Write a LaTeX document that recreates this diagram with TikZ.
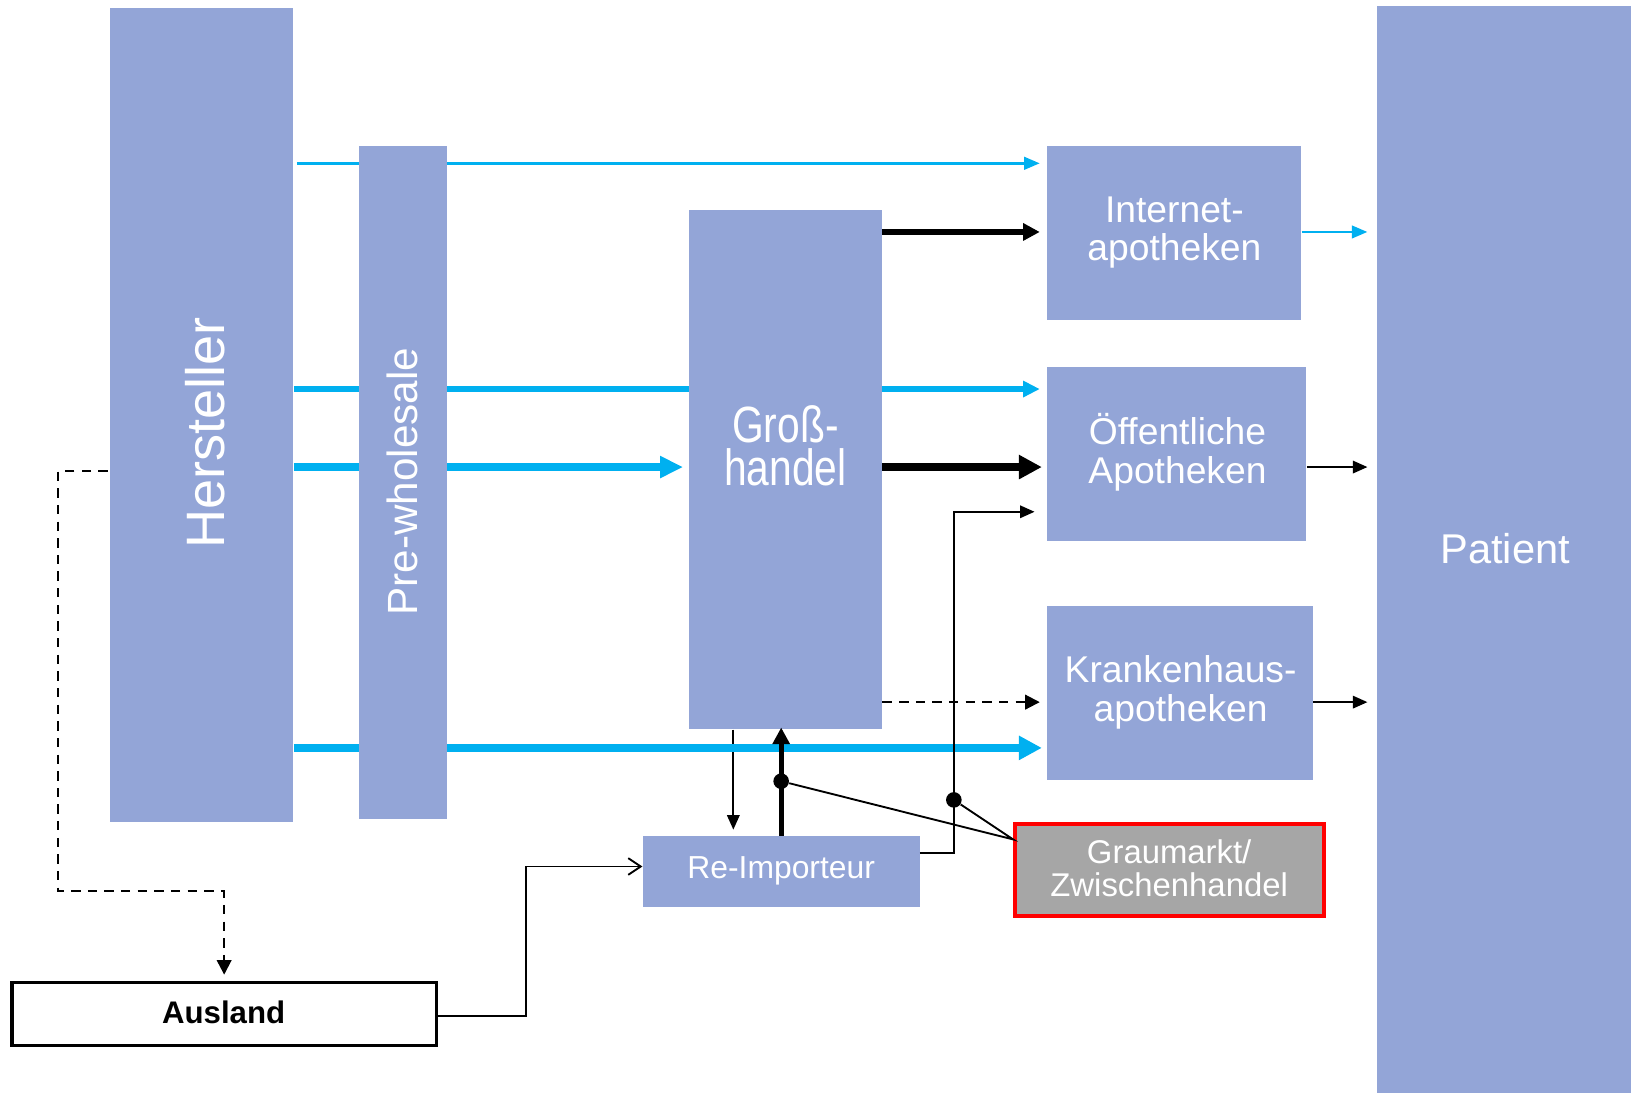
\documentclass[tikz,border=0pt]{standalone}
\usepackage{fontspec}
\setmainfont{Liberation Sans}
\usetikzlibrary{arrows.meta,fit,backgrounds}
\definecolor{boxblue}{RGB}{147,165,215}
\definecolor{flowcyan}{RGB}{0,176,240}
\definecolor{graybox}{RGB}{166,166,166}
\newcommand\apofont{\fontsize{17.9}{18.5}\selectfont}
\newcommand\ghfont{\fontsize{24.5}{22}\selectfont}

\begin{document}
\begin{tikzpicture}[x=0.5pt,y=-0.5pt,
  blk/.style={fill=boxblue, draw=none, inner sep=0pt},
  lbl/.style={text=white, inner sep=0pt, align=center},
  thinarr/.style={draw=black, line width=0.9pt, -{Triangle[length=7pt,width=6pt]}},
  openarr/.style={draw=black, line width=0.9pt, -{Straight Barb[length=6pt,width=8pt]}},
  cyanA/.style={draw=flowcyan, line width=1.3pt, -{Triangle[length=7.5pt,width=6pt]}},
  cyanB/.style={draw=flowcyan, line width=2.5pt, -{Triangle[length=8pt,width=7.5pt]}},
  cyanC/.style={draw=flowcyan, line width=3.5pt, -{Triangle[length=11pt,width=10pt]}},
  cyanD/.style={draw=flowcyan, line width=4pt, -{Triangle[length=11pt,width=11pt]}},
  blkB/.style={draw=black, line width=2.5pt, -{Triangle[length=8pt,width=8pt]}},
  blkC/.style={draw=black, line width=3.5pt, -{Triangle[length=11pt,width=11pt]}},
  dashline/.style={draw=black, line width=1pt, dash pattern=on 4.5pt off 3.5pt, -{Triangle[length=7pt,width=7pt]}},
  junction/.style={circle, fill=black, inner sep=0pt, minimum size=7.5pt}
]
\useasboundingbox (0,0) rectangle (1568,1051);

% supply chain boxes
\node[blk, fit={(106,8)(282,790)}] (hst) {};
\node[blk, fit={(345,140)(430,787)}] (pws) {};
\node[blk, fit={(662,202)(848,701)}] (gh) {};
\node[blk, fit={(1007,140)(1251,308)}] (inet) {};
\node[blk, fit={(1007,353)(1256,520)}] (oef) {};
\node[blk, fit={(1007,583)(1262,750)}] (kh) {};
\node[blk, fit={(1324,6)(1568,1051)}] (pat) {};
\node[blk, fit={(618,804)(884,872)}] (ri) {};
\node[fill=graybox, draw=red, line width=2pt, inner sep=0pt, fit={(976,792)(1273,881)}] (gm) {};
\node[fill=white, draw=black, line width=1.5pt, inner sep=0pt, fit={(11.5,944.5)(419.5,1005.5)}] (aus) {};

% box labels
\node[lbl, rotate=90, font=\fontsize{26}{30}\selectfont] (hstT) at (197,416) {Hersteller};
\node[lbl, rotate=90, font=\fontsize{20.3}{24}\selectfont] (pwsT) at (387,463) {Pre-wholesale};
\node[lbl, xscale=0.8, anchor=base, font=\ghfont] (ghT1) at (755,425) {Groß-};
\node[lbl, xscale=0.8, anchor=base, font=\ghfont] (ghT2) at (755,467) {handel};
\node[lbl, font=\apofont] (inetT) at (1129,223.5) {Internet-\\apotheken};
\node[lbl, font=\apofont] (oefT) at (1132,435) {Öffentliche\\Apotheken};
\node[lbl, font=\apofont] (khT) at (1135,665.5) {Krankenhaus-\\apotheken};
\node[lbl, font=\fontsize{20}{24}\selectfont] (patT) at (1447,527) {Patient};
\node[lbl, font=\fontsize{15.3}{18}\selectfont] (riT) at (751,837) {Re-Importeur};
\node[lbl, font=\fontsize{15.8}{16}\selectfont] (gmT) at (1124,835) {Graumarkt/\\Zwischenhandel};
\node[inner sep=0pt, font=\bfseries\fontsize{15}{18}\selectfont] (ausT) at (215,973) {Ausland};

% junction dots
\node[junction] (dA) at (751,751) {};
\node[junction] (dB) at (917,769) {};

% rows and columns of the connectors
\coordinate (yA) at (0,157);
\coordinate (yB) at (0,223);
\coordinate (yC) at (0,374);
\coordinate (yD) at (0,449);
\coordinate (yE) at (0,492);
\coordinate (yF) at (0,675);
\coordinate (yG) at (0,719);
\coordinate (yH) at (0,453);
\coordinate (yI) at (0,833);
\coordinate (yJ) at (0,820);
\coordinate (yK) at (0,807);
\coordinate (yL) at (0,857);
\coordinate (yM) at (0,977);
\coordinate (xA) at (56,0);
\coordinate (xB) at (506,0);
\coordinate (xC) at (917,0);
\coordinate (xD) at (705,0);
\coordinate (xE) at (751,0);

% flows running behind the boxes
\begin{pgfonlayer}{background}
\draw[thinarr, shorten >=3pt] (gh.south -| xD) -- (ri.north -| xD);
\draw[cyanA, shorten <=1.5pt, shorten >=3.5pt] (hst.east |- yA) -- (inet.west |- yA);
\draw[cyanB, shorten >=3.5pt] (hst.east |- yC) -- (oef.west |- yC);
\draw[cyanC, shorten >=2.5pt] (hst.east |- yD) -- (gh.west |- yD);
\draw[cyanD, shorten >=2.5pt] (hst.east |- yG) -- (kh.west |- yG);
\end{pgfonlayer}

% wholesale to pharmacies
\draw[blkB, shorten >=3.5pt] (gh.east |- yB) -- (inet.west |- yB);
\draw[blkC, shorten >=2.5pt] (gh.east |- yD) -- (oef.west |- yD);
\draw[dashline, shorten >=3.5pt] (gh.east |- yF) -- (kh.west |- yF);

% pharmacies to patient
\draw[cyanA, shorten >=4.5pt] (inet.east |- yB) -- (pat.west |- yB);
\draw[thinarr, shorten >=4.5pt] (oef.east |- yD) -- (pat.west |- yD);
\draw[thinarr, shorten >=4.5pt] (kh.east |- yF) -- (pat.west |- yF);

% export and re-import
\draw[dashline, shorten <=1pt, shorten >=3pt] (hst.west |- yH) -| (xA |- yL) -| (aus.north);
\draw[openarr] (aus.east |- yM) -| (xB |- yI) -- (ri.west |- yI);
\draw[draw=black, line width=2.5pt, -{Triangle[length=8pt,width=8pt]}, shorten >=-1pt] (ri.north -| xE) -- (gh.south -| xE);
\draw[thinarr, shorten >=6pt] (ri.east |- yJ) -| (xC |- yE) -- (oef.west |- yE);

% grey market links
\draw[line width=0.9pt] (dA) -- (gm.west |- yK) -- (dB);
\end{tikzpicture}
\end{document}
